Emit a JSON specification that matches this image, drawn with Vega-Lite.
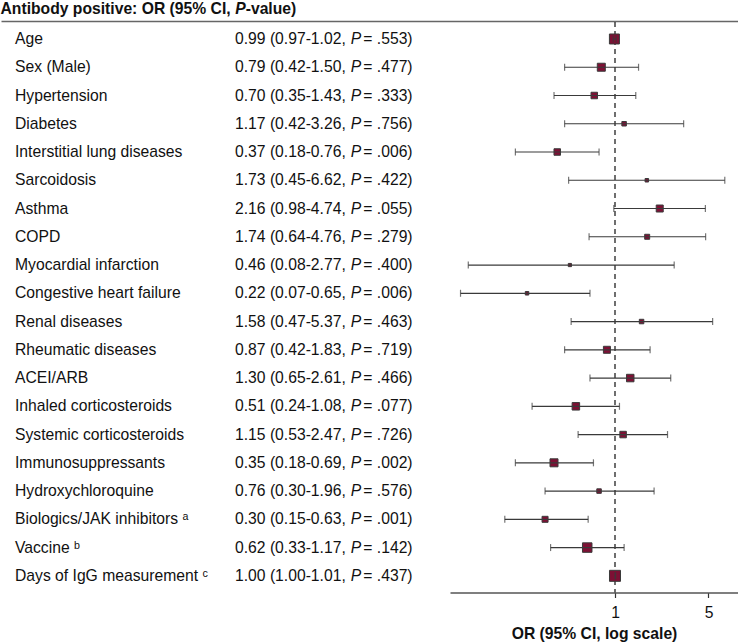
{
  "$schema": "https://vega.github.io/schema/vega-lite/v6.json",
  "padding": 0,
  "spacing": 0,
  "bounds": "flush",
  "background": "white",
  "config": {"view": {"stroke": null}, "font": "Liberation Sans", "axisY": {"disable": true}},
  "datasets": {
    "rows": [
      {"i": 1, "label": "Age", "or": 0.99, "lo": 0.97, "hi": 1.02, "est": "0.99 (0.97-1.02, ", "p": " = .553)", "w": 10},
      {"i": 2, "label": "Sex (Male)", "or": 0.79, "lo": 0.42, "hi": 1.50, "est": "0.79 (0.42-1.50, ", "p": " = .477)", "w": 8},
      {"i": 3, "label": "Hypertension", "or": 0.70, "lo": 0.35, "hi": 1.43, "est": "0.70 (0.35-1.43, ", "p": " = .333)", "w": 6.5},
      {"i": 4, "label": "Diabetes", "or": 1.17, "lo": 0.42, "hi": 3.26, "est": "1.17 (0.42-3.26, ", "p": " = .756)", "w": 4.5},
      {"i": 5, "label": "Interstitial lung diseases", "or": 0.37, "lo": 0.18, "hi": 0.76, "est": "0.37 (0.18-0.76, ", "p": " = .006)", "w": 6.5},
      {"i": 6, "label": "Sarcoidosis", "or": 1.73, "lo": 0.45, "hi": 6.62, "est": "1.73 (0.45-6.62, ", "p": " = .422)", "w": 3.5},
      {"i": 7, "label": "Asthma", "or": 2.16, "lo": 0.98, "hi": 4.74, "est": "2.16 (0.98-4.74, ", "p": " = .055)", "w": 7},
      {"i": 8, "label": "COPD", "or": 1.74, "lo": 0.64, "hi": 4.76, "est": "1.74 (0.64-4.76, ", "p": " = .279)", "w": 5},
      {"i": 9, "label": "Myocardial infarction", "or": 0.46, "lo": 0.08, "hi": 2.77, "est": "0.46 (0.08-2.77, ", "p": " = .400)", "w": 3.2},
      {"i": 10, "label": "Congestive heart failure", "or": 0.22, "lo": 0.07, "hi": 0.65, "est": "0.22 (0.07-0.65, ", "p": " = .006)", "w": 3.5},
      {"i": 11, "label": "Renal diseases", "or": 1.58, "lo": 0.47, "hi": 5.37, "est": "1.58 (0.47-5.37, ", "p": " = .463)", "w": 4.5},
      {"i": 12, "label": "Rheumatic diseases", "or": 0.87, "lo": 0.42, "hi": 1.83, "est": "0.87 (0.42-1.83, ", "p": " = .719)", "w": 7},
      {"i": 13, "label": "ACEI/ARB", "or": 1.30, "lo": 0.65, "hi": 2.61, "est": "1.30 (0.65-2.61, ", "p": " = .466)", "w": 7.5},
      {"i": 14, "label": "Inhaled corticosteroids", "or": 0.51, "lo": 0.24, "hi": 1.08, "est": "0.51 (0.24-1.08, ", "p": " = .077)", "w": 7.5},
      {"i": 15, "label": "Systemic corticosteroids", "or": 1.15, "lo": 0.53, "hi": 2.47, "est": "1.15 (0.53-2.47, ", "p": " = .726)", "w": 6.5},
      {"i": 16, "label": "Immunosuppressants", "or": 0.35, "lo": 0.18, "hi": 0.69, "est": "0.35 (0.18-0.69, ", "p": " = .002)", "w": 8},
      {"i": 17, "label": "Hydroxychloroquine", "or": 0.76, "lo": 0.30, "hi": 1.96, "est": "0.76 (0.30-1.96, ", "p": " = .576)", "w": 4.5},
      {"i": 18, "label": "Biologics/JAK inhibitors ᵃ", "or": 0.30, "lo": 0.15, "hi": 0.63, "est": "0.30 (0.15-0.63, ", "p": " = .001)", "w": 6},
      {"i": 19, "label": "Vaccine ᵇ", "or": 0.62, "lo": 0.33, "hi": 1.17, "est": "0.62 (0.33-1.17, ", "p": " = .142)", "w": 9.5},
      {"i": 20, "label": "Days of IgG measurement ᶜ", "or": 1.00, "lo": 1.00, "hi": 1.01, "est": "1.00 (1.00-1.01, ", "p": " = .437)", "w": 11}
    ]
  },
  "hconcat": [
    {
      "width": 450,
      "height": 592.5,
      "data": {"name": "rows"},
      "layer": [
        {
          "mark": {"type": "text", "align": "left", "baseline": "middle", "fontSize": 15.7, "color": "#111"},
          "encoding": {
            "x": {"datum": 15, "type": "quantitative", "axis": null, "scale": {"domain": [0, 450], "nice": false, "zero": false}},
            "y": {"field": "i", "type": "quantitative", "axis": null,
                  "scale": {"domain": [-0.38, 20.59], "reverse": true, "nice": false, "zero": false}},
            "text": {"field": "label"}
          }
        },
        {
          "mark": {"type": "text", "align": "left", "baseline": "middle", "fontSize": 15.7, "color": "#111"},
          "encoding": {"x": {"datum": 235, "type": "quantitative", "axis": null}, "y": {"field": "i", "type": "quantitative", "axis": null}, "text": {"field": "est"}}
        },
        {
          "mark": {"type": "text", "align": "left", "baseline": "middle", "fontSize": 15.7, "fontStyle": "italic", "color": "#111"},
          "encoding": {"x": {"datum": 350.7, "type": "quantitative", "axis": null}, "y": {"field": "i", "type": "quantitative", "axis": null}, "text": {"value": "P"}}
        },
        {
          "mark": {"type": "text", "align": "left", "baseline": "middle", "fontSize": 15.7, "color": "#111"},
          "encoding": {"x": {"datum": 363.3, "type": "quantitative", "axis": null}, "y": {"field": "i", "type": "quantitative", "axis": null}, "text": {"field": "p"}}
        },
        {
          "transform": [{"filter": "datum.i === 1"}],
          "mark": {"type": "text", "align": "left", "baseline": "middle", "fontSize": 15.7, "fontWeight": "bold", "color": "#111"},
          "encoding": {"x": {"datum": 0.5, "type": "quantitative", "axis": null}, "y": {"datum": -0.062, "type": "quantitative", "axis": null}, "text": {"value": "Antibody positive: OR (95% CI, "}}
        },
        {
          "transform": [{"filter": "datum.i === 1"}],
          "mark": {"type": "text", "align": "left", "baseline": "middle", "fontSize": 15.7, "fontWeight": "bold", "fontStyle": "italic", "color": "#111"},
          "encoding": {"x": {"datum": 235.2, "type": "quantitative", "axis": null}, "y": {"datum": -0.062, "type": "quantitative", "axis": null}, "text": {"value": "P"}}
        },
        {
          "transform": [{"filter": "datum.i === 1"}],
          "mark": {"type": "text", "align": "left", "baseline": "middle", "fontSize": 15.7, "fontWeight": "bold", "color": "#111"},
          "encoding": {"x": {"datum": 245.7, "type": "quantitative", "axis": null}, "y": {"datum": -0.062, "type": "quantitative", "axis": null}, "text": {"value": "-value)"}}
        },
        {
          "transform": [{"filter": "datum.i === 1"}],
          "mark": {"type": "rule", "color": "#666", "strokeWidth": 1.5},
          "encoding": {"x": {"datum": 1.5, "type": "quantitative", "axis": null}, "x2": {"datum": 450}, "y": {"datum": 0.38, "type": "quantitative", "axis": null}}
        }
      ]
    },
    {
      "width": 288,
      "height": 592.5,
      "data": {"name": "rows"},
      "layer": [
        {
          "transform": [{"filter": "datum.i === 1"}],
          "mark": {"type": "rule", "color": "#666", "strokeWidth": 1.5},
          "encoding": {
            "x": {"datum": 0.0584, "type": "quantitative",
                  "scale": {"type": "log", "domain": [0.0584, 8.31], "nice": false},
                  "axis": {"values": [1, 5], "format": "~g", "title": "OR (95% CI, log scale)",
                           "domainColor": "#555", "domainWidth": 1.3, "tickColor": "#333", "tickSize": 5, "tickWidth": 1.2,
                           "labelFontSize": 15.7, "labelColor": "#111", "labelPadding": 8, "labelFont": "Liberation Sans",
                           "titleFontSize": 15.7, "titleFontWeight": "bold", "titleColor": "#111", "titlePadding": 6, "titleFont": "Liberation Sans", "grid": false}},
            "x2": {"datum": 8.31},
            "y": {"datum": 0.38, "type": "quantitative", "axis": null,
                  "scale": {"domain": [-0.38, 20.59], "reverse": true, "nice": false, "zero": false}}
          }
        },
        {
          "transform": [{"filter": "datum.i === 1"}],
          "mark": {"type": "rule", "color": "#222", "strokeWidth": 1.3, "strokeDash": [5, 4]},
          "encoding": {"x": {"datum": 1, "type": "quantitative"}, "y": {"datum": 0.4, "type": "quantitative", "axis": null}, "y2": {"datum": 20.59}}
        },
        {
          "mark": {"type": "point", "shape": "square", "filled": true, "fill": "#7d1034", "stroke": "#3a3a3a", "strokeWidth": 1, "opacity": 1},
          "encoding": {
            "x": {"field": "or", "type": "quantitative"},
            "y": {"field": "i", "type": "quantitative", "axis": null},
            "size": {"field": "w", "type": "quantitative", "legend": null,
                     "scale": {"type": "pow", "exponent": 2, "domain": [0, 12], "range": [0, 144]}}
          }
        },
        {
          "mark": {"type": "rule", "color": "#3a3a3a", "strokeWidth": 1.2},
          "encoding": {"x": {"field": "lo", "type": "quantitative"}, "x2": {"field": "hi"}, "y": {"field": "i", "type": "quantitative", "axis": null}}
        },
        {
          "mark": {"type": "tick", "orient": "vertical", "color": "#3a3a3a", "size": 7, "thickness": 1.2},
          "encoding": {"x": {"field": "lo", "type": "quantitative"}, "y": {"field": "i", "type": "quantitative", "axis": null}}
        },
        {
          "mark": {"type": "tick", "orient": "vertical", "color": "#3a3a3a", "size": 7, "thickness": 1.2},
          "encoding": {"x": {"field": "hi", "type": "quantitative"}, "y": {"field": "i", "type": "quantitative", "axis": null}}
        }
      ]
    }
  ]
}
